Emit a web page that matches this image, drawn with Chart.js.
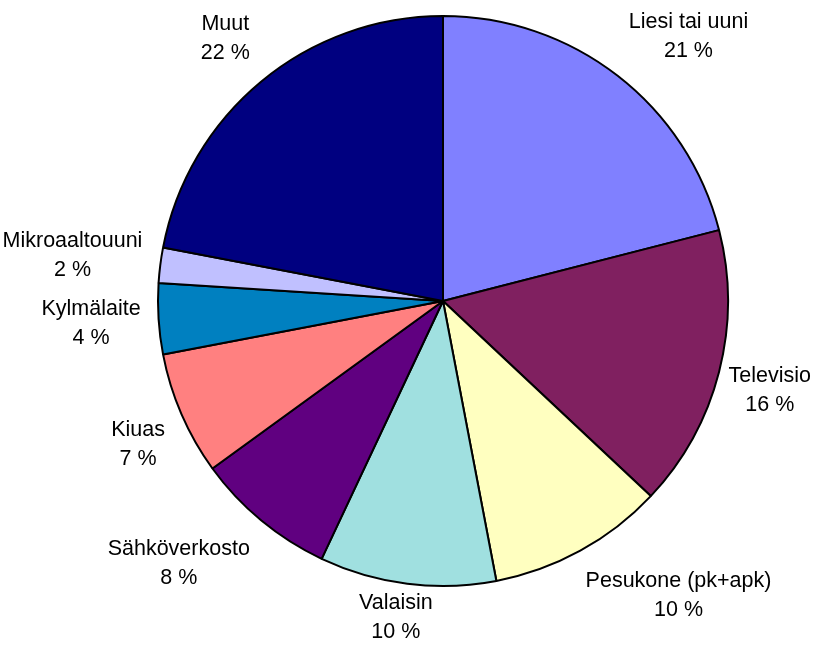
<!DOCTYPE html>
<html>
<head>
<meta charset="utf-8">
<title>Sähkönkulutus laitteittain</title>
<script src="https://cdn.jsdelivr.net/npm/chart.js@4/dist/chart.umd.min.js"></script>
<style>
  body { margin: 0; background: #fff; }
  canvas { display: block; }
</style>
</head>
<body>
<canvas id="myChart" width="813" height="647"></canvas>
<script>
const categories = ['Liesi tai uuni', 'Televisio', 'Pesukone (pk+apk)', 'Valaisin', 'Sähköverkosto', 'Kiuas', 'Kylmälaite', 'Mikroaaltouuni', 'Muut'];
const shares = [21, 16, 10, 10, 8, 7, 4, 2, 22];

const sliceColors = ['#8080ff', '#802060', '#ffffc0', '#a0e0e0', '#600080', '#ff8080', '#0080c0', '#c0c0ff', '#000080'];

// name + percentage outside each slice: the text box hangs off a point just
// beyond the rim, on the side facing away from the centre, kept inside the canvas
const outsideLabels = {
    id: 'outsideLabels',
    afterDatasetsDraw(chart, args, opts) {
        const ctx = chart.ctx;
        const arcs = chart.getDatasetMeta(0).data;
        const lim = v => Math.max(-1, Math.min(1, v * 2));
        ctx.save();
        ctx.font = opts.font;
        ctx.fillStyle = '#000';
        ctx.textAlign = 'center';
        ctx.textBaseline = 'middle';
        arcs.forEach((arc, i) => {
            const lines = [categories[i], shares[i] + ' %'];
            const w = Math.max(...lines.map(t => ctx.measureText(t).width));
            const h = lines.length * opts.lineHeight;
            const mid = (arc.startAngle + arc.endAngle) / 2;
            const cx = Math.cos(mid), cy = Math.sin(mid);
            const r = arc.outerRadius + opts.gap;
            let x = arc.x + cx * r + lim(cx) * w / 2;
            let y = arc.y + cy * r + lim(cy) * h / 2;
            x = Math.max(w / 2 + 2, Math.min(chart.width - w / 2 - 2, x));
            y = Math.max(h / 2 + 8, Math.min(chart.height - h / 2, y));
            lines.forEach((t, j) => {
                ctx.fillText(t, x, y + (j - (lines.length - 1) / 2) * opts.lineHeight);
            });
        });
        ctx.restore();
    }
};

const chartArea = document.getElementById('myChart');
new Chart(chartArea, {
    type: 'pie',
    data: {
        labels: categories,
        datasets: [{
            data: shares,
            backgroundColor: sliceColors,
            borderColor: '#000',
            borderWidth: 2
        }]
    },
    options: {
        responsive: false,
        animation: false,
        layout: { padding: { top: 15, bottom: 60, left: 157, right: 84 } },
        plugins: {
            legend: { display: false },
            tooltip: { enabled: false },
            outsideLabels: { font: '21.5px "Liberation Sans", Arial, sans-serif', lineHeight: 29, gap: 18 }
        }
    },
    plugins: [outsideLabels]
});
</script>
</body>
</html>
